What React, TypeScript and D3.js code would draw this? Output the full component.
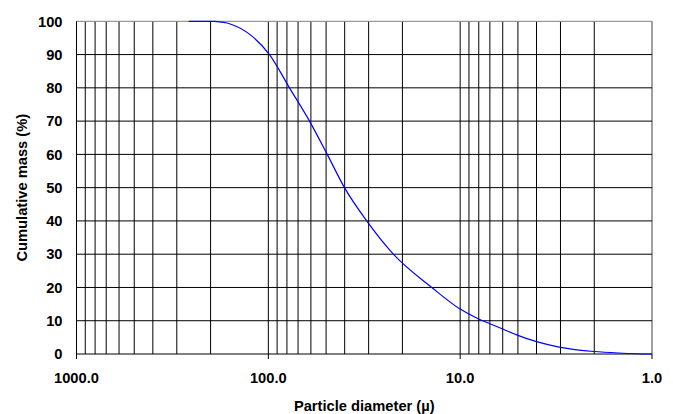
import { useEffect, useRef } from 'react';
import * as d3 from 'd3';

// particle diameter (µ) and cumulative mass (%)
const diameters = [260, 200, 190, 158, 124.5, 98.6, 77.6, 61, 49.3, 40.1, 30.7, 22.3, 14.06, 10, 9, 8, 7, 6, 5, 4, 3, 2, 1.5, 1.2, 1];
const cumulativeMass = [100, 100, 99.95, 99.2, 96, 90, 80, 70, 60, 50, 40, 30, 20, 13.5, 12.0, 10.5, 9.1, 7.5, 5.6, 3.7, 2.0, 0.75, 0.3, 0.08, 0];

const massTicks = [0, 10, 20, 30, 40, 50, 60, 70, 80, 90, 100];
const decadeTicks = [1000, 100, 10, 1];
const minorDiameters = [
  900, 800, 700, 600, 500, 400, 300, 200,
  90, 80, 70, 60, 50, 40, 30, 20,
  9, 8, 7, 6, 5, 4, 3, 2,
];

export default function App() {
  const svgRef = useRef<SVGSVGElement>(null);

  useEffect(() => {
    if (!svgRef.current) return;
    const W = 673;
    const H = 414;
    const margins = { top: 21.3, right: 21, bottom: 60, left: 76.5 };
    const width = W - margins.left - margins.right;
    const height = H - margins.top - margins.bottom;

    d3.select(svgRef.current).selectAll('*').remove();
    const svg = d3.select(svgRef.current).attr('width', W).attr('height', H);
    const g = svg.append('g').attr('transform', `translate(${margins.left},${margins.top})`);

    // X: log scale, large diameters on the left
    const xScale = d3.scaleLog().domain([1000, 1]).range([0, width]);
    const yScale = d3.scaleLinear().domain([0, 100]).range([height, 0]);

    const font = '"Liberation Sans", Arial, sans-serif';

    // vertical grid
    g.append('g')
      .selectAll('line')
      .data([...minorDiameters, 100, 10, 1])
      .join('line')
      .attr('x1', d => xScale(d))
      .attr('x2', d => xScale(d))
      .attr('y1', 0)
      .attr('y2', height)
      .attr('stroke', d => (d === 1 ? '#808080' : '#000'))
      .attr('stroke-width', d => (d === 1 ? 1.5 : 1));

    // horizontal grid
    g.append('g')
      .selectAll('line')
      .data(massTicks.filter(d => d > 0))
      .join('line')
      .attr('x1', 0)
      .attr('x2', width)
      .attr('y1', d => yScale(d))
      .attr('y2', d => yScale(d))
      .attr('stroke', d => (d === 100 ? '#808080' : '#000'))
      .attr('stroke-width', 1);

    // axes lines
    g.append('line')
      .attr('x1', 0).attr('x2', 0)
      .attr('y1', 0).attr('y2', height)
      .attr('stroke', '#000');
    g.append('line')
      .attr('x1', 0).attr('x2', width)
      .attr('y1', height).attr('y2', height)
      .attr('stroke', '#000');

    // x major ticks
    g.append('g')
      .selectAll('line')
      .data(decadeTicks)
      .join('line')
      .attr('x1', d => xScale(d))
      .attr('x2', d => xScale(d))
      .attr('y1', height)
      .attr('y2', height + 5)
      .attr('stroke', '#000');

    // x tick labels
    g.append('g')
      .selectAll('text')
      .data(decadeTicks)
      .join('text')
      .attr('x', d => xScale(d))
      .attr('y', height + 29)
      .attr('text-anchor', 'middle')
      .attr('font-family', font)
      .attr('font-weight', 'bold')
      .attr('font-size', '14.7px')
      .text(d => d.toFixed(1));

    // y tick labels
    g.append('g')
      .selectAll('text')
      .data(massTicks)
      .join('text')
      .attr('x', -14)
      .attr('y', d => yScale(d) + 5.2)
      .attr('text-anchor', 'end')
      .attr('font-family', font)
      .attr('font-weight', 'bold')
      .attr('font-size', '14.7px')
      .text(d => d);

    // curve
    const pts = diameters.map((d, i) => [xScale(d), yScale(cumulativeMass[i])] as [number, number]);
    const line = d3.line().curve(d3.curveMonotoneX);
    g.append('path')
      .attr('d', line(pts))
      .attr('fill', 'none')
      .attr('stroke', '#0000ff')
      .attr('stroke-width', 1.2);

    // axis titles
    svg.append('text')
      .attr('x', margins.left + width / 2)
      .attr('y', 410.5)
      .attr('text-anchor', 'middle')
      .attr('font-family', font)
      .attr('font-weight', 'bold')
      .attr('font-size', '14.7px')
      .text('Particle diameter (µ)');

    svg.append('text')
      .attr('transform', `translate(26.5,${margins.top + height / 2}) rotate(-90)`)
      .attr('text-anchor', 'middle')
      .attr('font-family', font)
      .attr('font-weight', 'bold')
      .attr('font-size', '14.7px')
      .text('Cumulative mass (%)');
  }, []);

  return (
    <div style={{ position: 'absolute', left: 0, top: 0, background: '#fff' }}>
      <svg ref={svgRef} style={{ display: 'block' }} />
    </div>
  );
}
